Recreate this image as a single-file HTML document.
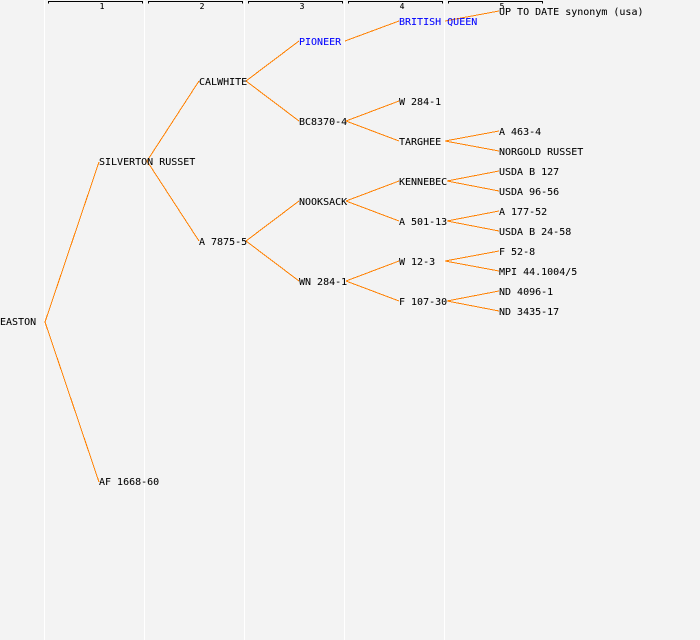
<!DOCTYPE html>
<html><head><meta charset="utf-8"><style>
html,body{margin:0;padding:0;background:#f3f3f3}
svg{display:block}
text{font-family:"DejaVu Sans Mono","Liberation Mono",monospace;font-size:10px;fill:#000;stroke:#000;stroke-width:.05px;-webkit-font-smoothing:none}
text.b{fill:#0000ff;stroke:#0000ff}
text.s{font-size:8px;stroke-width:.1px}
.o line{stroke:#ff8000;stroke-width:1;shape-rendering:crispEdges}
.k path{stroke:#000;fill:none;stroke-width:1;shape-rendering:crispEdges}
</style></head><body>
<svg width="700" height="640" viewBox="0 0 700 640" xmlns="http://www.w3.org/2000/svg">
<rect width="700" height="640" fill="#f3f3f3"/>
<g fill="#fff">
<rect x="44" y="0" width="1" height="640"/><rect x="144" y="0" width="1" height="640"/><rect x="244" y="0" width="1" height="640"/><rect x="344" y="0" width="1" height="640"/><rect x="444" y="0" width="1" height="640"/>
</g>
<g class="k">
<path d="M48.5 3.5V1.5H142.5V3.5"/><path d="M148.5 3.5V1.5H242.5V3.5"/><path d="M248.5 3.5V1.5H342.5V3.5"/><path d="M348.5 3.5V1.5H442.5V3.5"/><path d="M448.5 3.5V1.5H542.5V3.5"/>
</g>
<g text-anchor="middle">
<text class="s" x="102" y="9">1</text><text class="s" x="202" y="9">2</text><text class="s" x="302" y="9">3</text><text class="s" x="402" y="9">4</text><text class="s" x="502" y="9">5</text>
</g>
<g class="o">
<line x1="45" y1="322" x2="99" y2="162"/><line x1="45" y1="322" x2="99" y2="482"/>
<line x1="147" y1="161" x2="199" y2="81"/><line x1="147" y1="161" x2="199" y2="241"/>
<line x1="246" y1="81" x2="299" y2="41"/><line x1="246" y1="81" x2="299" y2="121"/>
<line x1="246" y1="241" x2="299" y2="201"/><line x1="246" y1="241" x2="299" y2="281"/>
<line x1="345" y1="41" x2="399" y2="21"/>
<line x1="346" y1="121" x2="399" y2="101"/><line x1="346" y1="121" x2="399" y2="141"/>
<line x1="346" y1="201" x2="399" y2="181"/><line x1="346" y1="201" x2="399" y2="221"/>
<line x1="346" y1="281" x2="399" y2="261"/><line x1="346" y1="281" x2="399" y2="301"/>
<line x1="445" y1="21" x2="499" y2="11"/>
<line x1="445" y1="141" x2="499" y2="131"/><line x1="445" y1="141" x2="499" y2="151"/>
<line x1="447" y1="181" x2="499" y2="171"/><line x1="447" y1="181" x2="499" y2="191"/>
<line x1="447" y1="221" x2="499" y2="211"/><line x1="447" y1="221" x2="499" y2="231"/>
<line x1="445" y1="261" x2="499" y2="251"/><line x1="445" y1="261" x2="499" y2="271"/>
<line x1="447" y1="301" x2="499" y2="291"/><line x1="447" y1="301" x2="499" y2="311"/>
</g>
<text x="0" y="325">EASTON</text>
<text x="99" y="165">SILVERTON RUSSET</text>
<text x="99" y="485">AF 1668-60</text>
<text x="199" y="85">CALWHITE</text>
<text x="199" y="245">A 7875-5</text>
<text class="b" x="299" y="45">PIONEER</text>
<text x="299" y="125">BC8370-4</text>
<text x="299" y="205">NOOKSACK</text>
<text x="299" y="285">WN 284-1</text>
<text class="b" x="399" y="25">BRITISH QUEEN</text>
<text x="399" y="105">W 284-1</text>
<text x="399" y="145">TARGHEE</text>
<text x="399" y="185">KENNEBEC</text>
<text x="399" y="225">A 501-13</text>
<text x="399" y="265">W 12-3</text>
<text x="399" y="305">F 107-30</text>
<text x="499" y="15">UP TO DATE synonym (usa)</text>
<text x="499" y="135">A 463-4</text>
<text x="499" y="155">NORGOLD RUSSET</text>
<text x="499" y="175">USDA B 127</text>
<text x="499" y="195">USDA 96-56</text>
<text x="499" y="215">A 177-52</text>
<text x="499" y="235">USDA B 24-58</text>
<text x="499" y="255">F 52-8</text>
<text x="499" y="275">MPI 44.1004/5</text>
<text x="499" y="295">ND 4096-1</text>
<text x="499" y="315">ND 3435-17</text>
</svg>
</body></html>
